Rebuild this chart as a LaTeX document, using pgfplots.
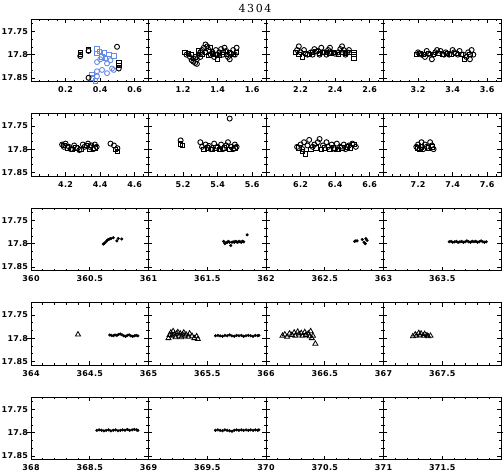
\documentclass[border=0pt]{standalone}
\usepackage{fontspec}
\usepackage{pgfplots}
\pgfplotsset{compat=1.18}
\usepgfplotslibrary{groupplots}
\newfontfamily\tickfont[LetterSpace=3]{DejaVu Sans Bold}
\newfontfamily\titlefont[LetterSpace=15]{DejaVu Serif}
\definecolor{cblue}{RGB}{100,140,230}
\pgfplotsset{
 panel/.style={
  width=117.5pt, height=62.5pt, scale only axis,
  y dir=reverse, ymin=17.723, ymax=17.858,
  ytick={17.75,17.8,17.85},
  minor ytick={17.7333,17.7667,17.7833,17.8167,17.8333},
  extra y ticks={17.8}, extra y tick labels={},
  extra y tick style={major tick length=8pt, tick align=center},
  tick align=inside, major tick length=4pt, minor tick length=2pt,
  every tick/.style={black, line width=0.6pt},
  axis line style={line width=0.9pt},
  scaled ticks=false,
  /pgf/number format/assume math mode=true,
  /pgf/number format/fixed,
  /pgf/number format/precision=2,
  tick label style={font=\tickfont\fontsize{8}{9}\selectfont},
  xticklabel style={yshift=-2pt},
  yticklabel style={xshift=0.5pt},
 },
 bc/.style={only marks, mark=o, mark size=2.5pt, black, mark options={line width=0.9pt}},
 bs/.style={only marks, mark=square, mark size=2.2pt, black, mark options={line width=0.9pt}},
 uc/.style={only marks, mark=o, mark size=2.5pt, cblue, mark options={line width=0.9pt}},
 us/.style={only marks, mark=square, mark size=2.2pt, cblue, mark options={line width=0.9pt}},
 dt/.style={only marks, mark=*, mark size=1.35pt, black},
 tr/.style={only marks, mark=triangle, mark size=2.9pt, black, mark options={line width=0.8pt}},
}
\begin{document}
\begin{tikzpicture}
\begin{groupplot}[group style={group size=4 by 5, horizontal sep=0pt, vertical sep=32pt, yticklabels at=edge left}, panel]
% ---- row 1
\nextgroupplot[xmin=0,xmax=0.68,xtick={0.2,0.4,0.6},minor xtick={0.05,0.1,...,0.65}]
\addplot[us] coordinates {(0.382,17.788)(0.397,17.793)(0.424,17.796)(0.45,17.800)(0.479,17.803)(0.382,17.798)(0.411,17.805)(0.353,17.850)(0.372,17.857)(0.353,17.843)(0.43,17.808)};
\addplot[uc] coordinates {(0.382,17.816)(0.401,17.810)(0.44,17.819)(0.469,17.830)(0.411,17.833)(0.44,17.840)(0.479,17.833)(0.382,17.836)(0.382,17.847)(0.46,17.812)};
\addplot[bs] coordinates {(0.285,17.795)(0.285,17.800)(0.333,17.790)(0.508,17.818)(0.508,17.823)};
\addplot[bc] coordinates {(0.285,17.803)(0.333,17.792)(0.498,17.783)(0.508,17.830)(0.333,17.850)};
\nextgroupplot[xmin=1,xmax=1.68,xtick={1.2,1.4,1.6},minor xtick={1.05,1.1,...,1.65}]
\addplot[bc] coordinates {(1.22,17.800)(1.24,17.805)(1.25,17.812)(1.26,17.815)(1.27,17.818)(1.28,17.810)(1.29,17.800)(1.30,17.795)(1.31,17.790)(1.32,17.785)(1.33,17.778)(1.34,17.782)(1.35,17.790)(1.36,17.800)(1.37,17.795)(1.38,17.805)(1.39,17.790)(1.40,17.800)(1.41,17.795)(1.42,17.788)(1.43,17.800)(1.44,17.785)(1.45,17.792)(1.46,17.805)(1.47,17.810)(1.48,17.798)(1.49,17.790)(1.50,17.800)(1.51,17.785)(1.26,17.808)(1.28,17.820)(1.30,17.805)};
\addplot[bs] coordinates {(1.21,17.795)(1.23,17.798)(1.25,17.800)(1.27,17.805)(1.29,17.792)(1.31,17.800)(1.33,17.795)(1.35,17.802)(1.37,17.798)(1.39,17.800)(1.41,17.802)(1.43,17.795)(1.45,17.800)(1.47,17.795)(1.49,17.800)(1.51,17.795)(1.36,17.785)(1.40,17.810)};
\nextgroupplot[xmin=2,xmax=2.68,xtick={2.2,2.4,2.6},minor xtick={2.05,2.1,...,2.65}]
\addplot[bc] coordinates {(2.18,17.790)(2.19,17.782)(2.20,17.795)(2.22,17.790)(2.24,17.800)(2.26,17.795)(2.28,17.788)(2.30,17.792)(2.31,17.800)(2.32,17.785)(2.34,17.795)(2.35,17.800)(2.36,17.790)(2.37,17.785)(2.38,17.795)(2.42,17.795)(2.43,17.788)(2.44,17.782)(2.45,17.790)(2.46,17.800)(2.47,17.795)(2.48,17.790)(2.27,17.800)(2.40,17.798)};
\addplot[bs] coordinates {(2.17,17.795)(2.19,17.800)(2.21,17.805)(2.23,17.797)(2.25,17.800)(2.27,17.795)(2.29,17.793)(2.31,17.798)(2.33,17.795)(2.35,17.795)(2.37,17.798)(2.39,17.795)(2.42,17.800)(2.44,17.795)(2.46,17.797)(2.48,17.795)(2.51,17.800)(2.51,17.808)(2.51,17.795)};
\nextgroupplot[xmin=3,xmax=3.68,xtick={3.2,3.4,3.6},minor xtick={3.05,3.1,...,3.65}]
\addplot[bc] coordinates {(3.20,17.795)(3.22,17.800)(3.24,17.805)(3.25,17.792)(3.27,17.800)(3.28,17.810)(3.30,17.795)(3.31,17.790)(3.33,17.792)(3.35,17.800)(3.36,17.795)(3.38,17.800)(3.40,17.790)(3.41,17.795)(3.43,17.800)(3.44,17.792)(3.46,17.800)(3.48,17.805)(3.49,17.795)(3.50,17.810)(3.51,17.790)(3.52,17.800)};
\addplot[bs] coordinates {(3.19,17.800)(3.21,17.797)(3.23,17.800)(3.26,17.798)(3.29,17.800)(3.32,17.797)(3.34,17.800)(3.37,17.797)(3.39,17.800)(3.42,17.797)(3.45,17.800)(3.47,17.810)(3.50,17.800)};
% ---- row 2
\nextgroupplot[xmin=4,xmax=4.68,xtick={4.2,4.4,4.6},minor xtick={4.05,4.1,...,4.65}]
\addplot[bc] coordinates {(4.18,17.790)(4.19,17.795)(4.20,17.788)(4.22,17.795)(4.23,17.800)(4.25,17.792)(4.27,17.798)(4.28,17.802)(4.30,17.790)(4.31,17.795)(4.33,17.788)(4.34,17.795)(4.35,17.792)(4.36,17.800)(4.37,17.790)(4.38,17.795)(4.46,17.788)(4.48,17.792)(4.50,17.798)};
\addplot[bs] coordinates {(4.19,17.792)(4.21,17.797)(4.24,17.800)(4.26,17.797)(4.29,17.800)(4.32,17.792)(4.34,17.800)(4.37,17.797)(4.49,17.800)(4.50,17.805)};
\nextgroupplot[xmin=5,xmax=5.68,xtick={5.2,5.4,5.6},minor xtick={5.05,5.1,...,5.65}]
\addplot[bc] coordinates {(5.186,17.781)(5.30,17.785)(5.31,17.795)(5.33,17.790)(5.35,17.793)(5.36,17.800)(5.38,17.788)(5.40,17.795)(5.42,17.790)(5.43,17.800)(5.45,17.792)(5.46,17.785)(5.48,17.795)(5.49,17.800)(5.50,17.790)(5.51,17.795)(5.47,17.734)};
\addplot[bs] coordinates {(5.186,17.789)(5.196,17.792)(5.32,17.800)(5.34,17.797)(5.37,17.800)(5.39,17.797)(5.41,17.800)(5.44,17.797)(5.47,17.800)(5.50,17.797)};
\nextgroupplot[xmin=6,xmax=6.68,xtick={6.2,6.4,6.6},minor xtick={6.05,6.1,...,6.65}]
\addplot[bc] coordinates {(6.18,17.795)(6.20,17.790)(6.21,17.800)(6.22,17.785)(6.24,17.792)(6.25,17.780)(6.27,17.795)(6.28,17.790)(6.30,17.785)(6.31,17.778)(6.33,17.792)(6.35,17.785)(6.36,17.795)(6.38,17.790)(6.40,17.800)(6.41,17.788)(6.43,17.795)(6.45,17.790)(6.46,17.800)(6.48,17.792)(6.50,17.788)(6.52,17.795)};
\addplot[bs] coordinates {(6.19,17.797)(6.21,17.805)(6.23,17.810)(6.26,17.800)(6.29,17.797)(6.32,17.800)(6.34,17.797)(6.37,17.800)(6.39,17.797)(6.42,17.800)(6.44,17.797)(6.47,17.795)(6.49,17.797)(6.51,17.790)};
\nextgroupplot[xmin=7,xmax=7.68,xtick={7.2,7.4,7.6},minor xtick={7.05,7.1,...,7.65}]
\addplot[bc] coordinates {(7.19,17.795)(7.20,17.790)(7.22,17.785)(7.24,17.790)(7.25,17.795)(7.27,17.785)(7.28,17.792)(7.29,17.800)(7.23,17.800)};
\addplot[bs] coordinates {(7.20,17.797)(7.22,17.795)(7.26,17.797)(7.28,17.795)(7.21,17.800)};
% ---- row 3
\nextgroupplot[xmin=360,xmax=361,xtick={360,360.5},minor xtick={360.1,360.2,...,360.9}]
\addplot[dt] coordinates {(360.615,17.801)(360.625,17.799)(360.638,17.796)(360.648,17.793)(360.658,17.791)(360.670,17.790)(360.681,17.789)(360.700,17.787)(360.730,17.794)(360.743,17.789)(360.772,17.790)};
\nextgroupplot[xmin=361,xmax=362,xtick={361,361.5},minor xtick={361.1,361.2,...,361.9}]
\addplot[dt] coordinates {(361.64,17.795)(361.65,17.800)(361.66,17.798)(361.67,17.797)(361.68,17.795)(361.69,17.797)(361.70,17.804)(361.71,17.797)(361.72,17.796)(361.73,17.797)(361.74,17.795)(361.75,17.796)(361.76,17.797)(361.77,17.795)(361.78,17.796)(361.79,17.797)(361.80,17.795)(361.81,17.796)(361.84,17.781)};
\nextgroupplot[xmin=362,xmax=363,xtick={362,362.5},minor xtick={362.1,362.2,...,362.9}]
\addplot[dt] coordinates {(362.755,17.795)(362.765,17.794)(362.775,17.794)(362.82,17.791)(362.835,17.797)(362.845,17.800)(362.85,17.789)(362.86,17.793)};
\nextgroupplot[xmin=363,xmax=364,xtick={363,363.5},minor xtick={363.1,363.2,...,363.9}]
\addplot[dt] coordinates {(363.56,17.796)(363.575,17.795)(363.59,17.797)(363.605,17.796)(363.62,17.795)(363.635,17.797)(363.65,17.796)(363.665,17.795)(363.68,17.797)(363.695,17.796)(363.71,17.794)(363.725,17.796)(363.74,17.797)(363.755,17.795)(363.77,17.796)(363.785,17.795)(363.80,17.797)(363.815,17.796)(363.83,17.794)(363.845,17.796)(363.86,17.797)(363.875,17.796)};
% ---- row 4
\nextgroupplot[xmin=364,xmax=365,xtick={364,364.5},minor xtick={364.1,364.2,...,364.9}]
\addplot[tr] coordinates {(364.40,17.792)};
\addplot[dt] coordinates {(364.67,17.793)(364.685,17.794)(364.70,17.795)(364.715,17.793)(364.73,17.794)(364.745,17.792)(364.76,17.791)(364.775,17.793)(364.79,17.795)(364.805,17.796)(364.82,17.794)(364.835,17.793)(364.85,17.795)(364.865,17.796)(364.88,17.795)(364.895,17.794)(364.91,17.795)};
\nextgroupplot[xmin=365,xmax=366,xtick={365,365.5},minor xtick={365.1,365.2,...,365.9}]
\addplot[tr] coordinates {(365.17,17.800)(365.18,17.793)(365.19,17.788)(365.20,17.795)(365.21,17.785)(365.22,17.792)(365.23,17.798)(365.24,17.790)(365.25,17.787)(365.26,17.795)(365.27,17.790)(365.28,17.798)(365.29,17.792)(365.30,17.788)(365.31,17.795)(365.32,17.792)(365.34,17.797)(365.35,17.790)(365.37,17.795)(365.39,17.800)(365.41,17.796)(365.42,17.802)};
\addplot[dt] coordinates {(365.57,17.795)(365.59,17.794)(365.61,17.795)(365.63,17.796)(365.65,17.794)(365.67,17.795)(365.69,17.793)(365.71,17.795)(365.73,17.796)(365.75,17.794)(365.77,17.795)(365.79,17.794)(365.81,17.796)(365.83,17.795)(365.85,17.794)(365.87,17.795)(365.89,17.796)(365.91,17.794)(365.93,17.795)(365.94,17.794)};
\nextgroupplot[xmin=366,xmax=367,xtick={366,366.5},minor xtick={366.1,366.2,...,366.9}]
\addplot[tr] coordinates {(366.14,17.795)(366.16,17.792)(366.18,17.797)(366.20,17.790)(366.22,17.793)(366.24,17.788)(366.25,17.795)(366.27,17.786)(366.28,17.792)(366.30,17.789)(366.31,17.795)(366.33,17.787)(366.34,17.793)(366.36,17.790)(366.37,17.796)(366.38,17.785)(366.39,17.800)(366.40,17.795)(366.42,17.812)};
\nextgroupplot[xmin=367,xmax=368,xtick={367,367.5},minor xtick={367.1,367.2,...,367.9}]
\addplot[tr] coordinates {(367.25,17.796)(367.27,17.792)(367.28,17.795)(367.30,17.789)(367.31,17.794)(367.32,17.790)(367.34,17.795)(367.35,17.791)(367.37,17.794)(367.38,17.796)(367.40,17.795)};
% ---- row 5
\nextgroupplot[xmin=368,xmax=369,xtick={368,368.5},minor xtick={368.1,368.2,...,368.9}]
\addplot[dt] coordinates {(368.56,17.795)(368.58,17.794)(368.60,17.795)(368.62,17.796)(368.64,17.795)(368.66,17.794)(368.68,17.796)(368.70,17.795)(368.72,17.794)(368.74,17.796)(368.76,17.795)(368.78,17.794)(368.80,17.795)(368.82,17.793)(368.84,17.795)(368.86,17.794)(368.88,17.793)(368.90,17.794)(368.91,17.795)};
\nextgroupplot[xmin=369,xmax=370,xtick={369,369.5},minor xtick={369.1,369.2,...,369.9}]
\addplot[dt] coordinates {(369.57,17.795)(369.59,17.794)(369.61,17.795)(369.63,17.796)(369.65,17.794)(369.67,17.795)(369.69,17.796)(369.71,17.797)(369.73,17.795)(369.75,17.794)(369.77,17.795)(369.79,17.794)(369.81,17.795)(369.83,17.794)(369.85,17.795)(369.87,17.794)(369.89,17.795)(369.91,17.794)(369.93,17.795)(369.94,17.794)};
\nextgroupplot[xmin=370,xmax=371,xtick={370,370.5},minor xtick={370.1,370.2,...,370.9}]
\addplot[draw=none] coordinates {(370.5,17.8)};
\nextgroupplot[xmin=371,xmax=372,xtick={371,371.5},minor xtick={371.1,371.2,...,371.9}]
\addplot[draw=none] coordinates {(371.5,17.8)};
\end{groupplot}
\node[font=\titlefont\fontsize{11}{12}\selectfont] at ([shift={(224pt,10.3pt)}]group c1r1.north west) {4304};
\pgfresetboundingbox
\path[use as bounding box] ([shift={(-31pt,19pt)}]group c1r1.north west) rectangle ([shift={(472pt,-453pt)}]group c1r1.north west);
\end{tikzpicture}
\end{document}
